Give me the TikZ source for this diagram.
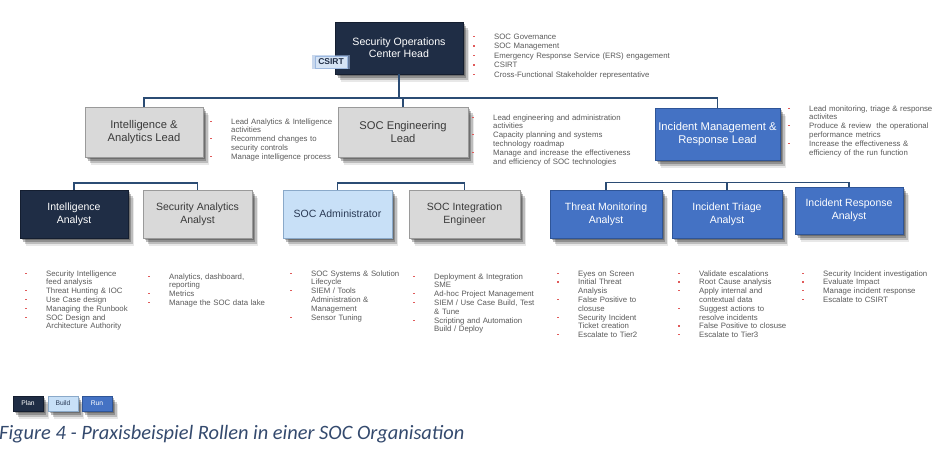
\documentclass[tikz,border=0pt]{standalone}
\usepackage{fontspec}
\setmainfont{Liberation Sans}
\newfontfamily\capfont{Carlito}
\usetikzlibrary{shadows}
\definecolor{navy}{HTML}{1F2D45}
\definecolor{navyline}{HTML}{141E30}
\definecolor{boxgray}{HTML}{D9D9D9}
\definecolor{graybord}{HTML}{9A9A9A}
\definecolor{graytext}{HTML}{3A3A3A}
\definecolor{lblue}{HTML}{C8E0F7}
\definecolor{lbluebord}{HTML}{8AA9C9}
\definecolor{lbluetext}{HTML}{2A3A55}
\definecolor{mblue}{HTML}{4472C4}
\definecolor{mbluebord}{HTML}{2F5597}
\definecolor{conncol}{HTML}{2B4C74}
\definecolor{bred}{HTML}{E05A5A}
\definecolor{bgray}{HTML}{5A5A5A}
\definecolor{capcol}{HTML}{344A6E}
\definecolor{csirtfill}{HTML}{D6E4F5}
\definecolor{csirtbord}{HTML}{9DB9E0}
\newcommand\bmark{\textcolor{bred}{\rule[2.2pt]{2.2pt}{1.3pt}}}
\newcommand\bi[1]{\par\hangindent=21pt\hangafter=0\noindent\llap{\makebox[21pt][l]{\bmark}}#1\par}
\tikzset{
  shad/.style={
    drop shadow={shadow xshift=1.5pt,shadow yshift=-2pt,opacity=0.30,fill=black!85},
    drop shadow={shadow xshift=3pt,shadow yshift=-4pt,opacity=0.30,fill=black!85},
    drop shadow={shadow xshift=4.5pt,shadow yshift=-6pt,opacity=0.22,fill=black!85},
    drop shadow={shadow xshift=5.5pt,shadow yshift=-7.5pt,opacity=0.10,fill=black!85}},
  rolebox/.style={shad, draw, line width=0.6pt, align=center, inner sep=1pt},
  navybox/.style={rolebox, fill=navy, draw=navyline, text=white},
  graybox/.style={rolebox, fill=boxgray, draw=graybord, text=graytext},
  lbluebox/.style={rolebox, fill=lblue, draw=lbluebord, text=lbluetext},
  bluebox/.style={rolebox, fill=mblue, draw=mbluebord, text=white},
  headfont/.style={font=\fontsize{10.6}{12.3}\selectfont},
  leadfont/.style={font=\fontsize{11.2}{12.8}\selectfont},
  rolefont/.style={font=\fontsize{10.5}{12.6}\selectfont},
  sz/.style 2 args={minimum width=#1pt, minimum height=#2pt},
  blist/.style={anchor=north west, inner sep=0pt, align=left, text width=#1pt,
    text=bgray, font=\fontsize{7.8}{8.8}\selectfont},
  conn/.style={draw=conncol, line width=1.8pt},
  legbox/.style={shad, draw, line width=0.5pt, inner sep=0pt, minimum width=30pt,
    minimum height=15pt, font=\fontsize{6.7}{7}\selectfont},
}
\begin{document}
\begin{tikzpicture}[x=1pt,y=-1pt]
\useasboundingbox[fill=white] (0,0) rectangle (944,459);

% ---- head ----
\node[navybox, headfont, sz={128}{52}] (head) at (399,48) {Security Operations\\Center Head};
\node[draw=csirtbord, fill=csirtfill, text=navy, line width=0.6pt,
      font=\bfseries\fontsize{8.5}{9}\selectfont, inner sep=0pt, sz={32}{12},
      drop shadow={shadow xshift=0pt,shadow yshift=0pt,shadow scale=1.18,fill=csirtbord,opacity=0.55}]
      (csirt) at (331,62) {CSIRT};
\node[blist={200}, font=\fontsize{7.8}{9.5}\selectfont] (headlist) at (473,29.5) {%
\bi{SOC Governance}\bi{SOC Management}\bi{Emergency Response Service (ERS) engagement}%
\bi{CSIRT}\bi{Cross-Functional Stakeholder representative}};

% ---- leads ----
\node[graybox, leadfont, sz={118}{50}] (ial) at (144,132) {Intelligence \&\\Analytics Lead};
\node[graybox, leadfont, sz={130}{50}] (sel) at (403,132) {SOC Engineering\\Lead};
\node[bluebox, leadfont, sz={125}{52}] (imr) at (717.5,134) {Incident Management \&\\Response Lead};

\node[blist={125}] (iallist) at (210,115) {%
\bi{Lead Analytics \& Intelligence\newline activities}%
\bi{Recommend changes to\newline security controls}%
\bi{Manage intelligence process}};
\node[blist={175}] (sellist) at (472,111) {%
\bi{Lead engineering and administration\newline activities}%
\bi{Capacity planning and systems\newline technology roadmap}%
\bi{Manage and increase the effectiveness\newline and efficiency of SOC technologies}};
\node[blist={150}] (imrlist) at (788,102) {%
\bi{Lead monitoring, triage \& response\newline activites}%
\bi{Produce \& review\ \ the operational\newline performance metrics}%
\bi{Increase the effectiveness \&\newline efficiency of the run function}};

% ---- roles ----
\node[navybox, rolefont, sz={108}{48}] (ia) at (74,214) {Intelligence\\Analyst};
\node[graybox, rolefont, sz={109}{48}] (saa) at (197.5,214) {Security Analytics\\Analyst};
\node[lbluebox, rolefont, sz={109}{48}] (adm) at (337.5,214) {SOC Administrator};
\node[graybox, rolefont, sz={111}{48}] (sie) at (464.5,214) {SOC Integration\\Engineer};
\node[bluebox, rolefont, sz={112}{48}] (tma) at (606,214) {Threat Monitoring\\Analyst};
\node[bluebox, rolefont, sz={110}{48}] (ita) at (727,214) {Incident Triage\\Analyst};
\node[bluebox, rolefont, sz={108}{47}] (ira) at (849,210.5) {Incident Response\\Analyst};

% ---- role bullet lists ----
\node[blist={118}] (l1) at (25,267) {%
\bi{Security Intelligence\newline feed analysis}\bi{Threat Hunting \& IOC}%
\bi{Use Case design}\bi{Managing the Runbook}%
\bi{SOC Design and\newline Architecture Authority}};
\node[blist={135}] (l2) at (148,270) {%
\bi{Analytics, dashboard,\newline reporting}\bi{Metrics}\bi{Manage the SOC data lake}};
\node[blist={120}] (l3) at (290,267) {%
\bi{SOC Systems \& Solution\newline Lifecycle}%
\bi{SIEM / Tools\newline Administration \&\newline Management}\bi{Sensor Tuning}};
\node[blist={140}] (l4) at (413,270) {%
\bi{Deployment \& Integration\newline SME}\bi{Ad-hoc Project Management}%
\bi{SIEM / Use Case Build, Test\newline \& Tune}%
\bi{Scripting and Automation\newline Build / Deploy}};
\node[blist={116}] (l5) at (557,267) {%
\bi{Eyes on Screen}\bi{Initial Threat\newline Analysis}%
\bi{False Positive to\newline closuse}\bi{Security Incident\newline Ticket creation}%
\bi{Escalate to Tier2}};
\node[blist={120}] (l6) at (678,267) {%
\bi{Validate escalations}\bi{Root Cause analysis}%
\bi{Apply internal and\newline contextual data}\bi{Suggest actions to\newline resolve incidents}%
\bi{False Positive to closuse}\bi{Escalate to Tier3}};
\node[blist={138}] (l7) at (802,267) {%
\bi{Security Incident investigation}\bi{Evaluate Impact}%
\bi{Manage incident response}\bi{Escalate to CSIRT}};

% ---- connectors ----
\coordinate (busR) at (717.5,98);
\coordinate (busH) at (399,98);
\coordinate (busS) at (403,98);
\draw[conn] (ial.north) |- (busR) -- (imr.north);
\draw[conn] (head.south) -- (busH);
\draw[conn] (busS) -- (sel.north);
\draw[conn] (ia.north) -- ++(0,-7) -| (saa.north);
\draw[conn] (adm.north) -- ++(0,-7) -| (sie.north);
\coordinate (b3) at (727,182.5);
\draw[conn] (tma.north) |- (b3) -| (ira.north);
\draw[conn] (ita.north) -- (b3);

% ---- legend ----
\node[legbox, fill=navy, draw=navyline, text=white] (plan) at (28,403.5) {Plan};
\node[legbox, fill=lblue, draw=lbluebord, text=lbluetext] (build) at (63,403.5) {Build};
\node[legbox, fill=mblue, draw=mbluebord, text=white] (run) at (97,403.5) {Run};

% ---- caption ----
\node[anchor=base west, inner sep=0pt, text=capcol,
      font=\capfont\itshape\fontsize{20.4}{24}\selectfont] (cap) at (-1,439)
      {Figure 4 - Praxisbeispiel Rollen in einer SOC Organisation};
\end{tikzpicture}
\end{document}
